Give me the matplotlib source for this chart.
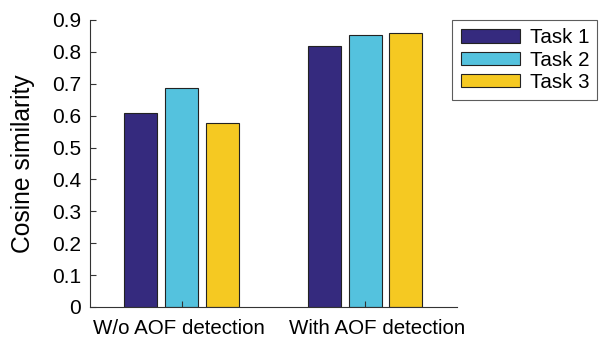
import matplotlib
matplotlib.use("Agg")
import matplotlib.pyplot as plt
import matplotlib.transforms as mtransforms
import numpy as np

plt.rcParams['font.family'] = ['Liberation Sans', 'DejaVu Sans']

groups = ["W/o AOF detection", "With AOF detection"]
series = ["Task 1", "Task 2", "Task 3"]
task1 = [0.607, 0.819]
task2 = [0.687, 0.853]
task3 = [0.578, 0.859]
colors = ["#352A7E", "#54C2DE", "#F5C922"]
yticks = [0, 0.1, 0.2, 0.3, 0.4, 0.5, 0.6, 0.7, 0.8, 0.9]

fig = plt.figure(figsize=(6.11, 3.44), dpi=100)
ax = fig.add_axes([89.6/611, 1-307/344, (457.2-89.6)/611, (307-20)/344])

x = np.arange(1, len(groups)+1)
w = 0.18
off = 0.221
for i, (vals, c, lab) in enumerate(zip([task1, task2, task3], colors, series)):
    ax.bar(x + (i-1)*off, vals, width=w, color=c, edgecolor="#222222", linewidth=0.8, label=lab)

ax.set_xlim(0.5, 2.5)
ax.set_ylim(0, 0.9)
ax.set_yticks(yticks)
ax.set_yticklabels([f"{t:g}" for t in yticks])
ax.set_xticks(x)
ax.set_xticklabels(groups)
ax.tick_params(direction='in', length=4, width=0.8, color="#333333", labelsize=15, pad=6)
ax.tick_params(axis='x', labelsize=14.8, pad=9)
shifts = [-2.5, 12]
for lbl, dx in zip(ax.get_xticklabels(), shifts):
    lbl.set_transform(lbl.get_transform() + mtransforms.ScaledTranslation(dx/100, 0, fig.dpi_scale_trans))
for s in ['top', 'right']:
    ax.spines[s].set_visible(False)
for s in ['left', 'bottom']:
    ax.spines[s].set_color("#333333")
    ax.spines[s].set_linewidth(0.8)
ax.set_ylabel("Cosine similarity", fontsize=17.7, labelpad=12)

leg = ax.legend(loc='upper left', bbox_to_anchor=(452.3/611, 1-20/344),
                bbox_transform=fig.transFigure, fontsize=14.8, frameon=True,
                fancybox=False, edgecolor="#333333", handlelength=2.87, handleheight=0.6,
                labelspacing=0.17, borderaxespad=0, handletextpad=0.49, borderpad=0.4)
leg.get_frame().set_linewidth(0.8)

fig.savefig("out.png", dpi=100)
